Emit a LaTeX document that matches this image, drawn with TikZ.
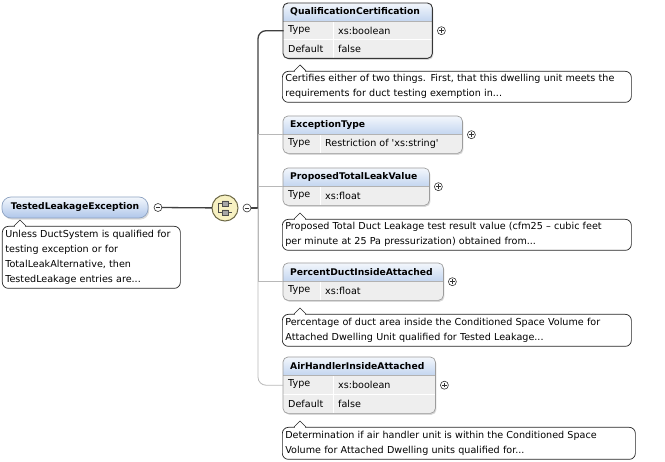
\documentclass[tikz,border=0pt]{standalone}
\usepackage{fontspec}
\setmainfont{DejaVu Sans}
\usetikzlibrary{shadows}
\definecolor{headtop}{HTML}{F3F7FC}
\definecolor{headbot}{HTML}{C4D6F0}
\definecolor{rootbot}{HTML}{AFC6EA}
\definecolor{rootline}{HTML}{8EA3C2}
\definecolor{rowfill}{HTML}{EEEEEE}
\definecolor{optgray}{HTML}{9C9C9C}
\definecolor{mandgray}{HTML}{363636}
\definecolor{seqfill}{HTML}{F7F1C2}
\definecolor{seqline}{HTML}{6E6A48}

\begin{document}
\begin{tikzpicture}[x=1pt,y=-1pt,
    every node/.style={font=\fontsize{9.6}{15}\selectfont},
    elbox/.style={anchor=north west, inner sep=0pt, fill=rowfill, rounded corners=5pt,
      drop shadow={shadow xshift=1.2pt, shadow yshift=-1.6pt, opacity=.3}},
    mandborder/.style={draw=mandgray, line width=0.9pt, rounded corners=5pt},
    optborder/.style={draw=optgray, line width=0.7pt, rounded corners=5pt},
    headfill/.style={top color=headtop, bottom color=headbot},
    headsep/.style={draw=black!30, line width=0.5pt},
    rowsep/.style={draw=white, line width=0.9pt},
    headtext/.style={anchor=west, inner sep=0pt, font=\fontsize{9.2}{15}\selectfont\bfseries},
    celltext/.style={anchor=west, inner sep=0pt},
    rootbox/.style={draw=rootline, line width=0.7pt, rounded corners=9pt, top color=headtop,
      bottom color=rootbot, minimum width=146pt, minimum height=21pt, inner sep=0pt,
      font=\fontsize{9.2}{15}\selectfont\bfseries,
      drop shadow={shadow xshift=1.2pt, shadow yshift=-1.6pt, opacity=.3}},
    docline/.style={draw=black!85, line width=0.7pt},
    docbox/.style={docline, anchor=north west, fill=white, rounded corners=6pt, inner sep=3pt, align=left},
    btn/.style={circle, draw=black!80, line width=0.6pt, fill=white, minimum size=8pt, inner sep=0pt},
    minusbtn/.style={btn, path picture={\draw[line width=0.6pt]
      ([xshift=-2.2pt]path picture bounding box.center) -- ([xshift=2.2pt]path picture bounding box.center);}},
    plusbtn/.style={btn, path picture={\draw[line width=0.6pt]
      ([xshift=-2.2pt]path picture bounding box.center) -- ([xshift=2.2pt]path picture bounding box.center)
      ([yshift=-2.2pt]path picture bounding box.center) -- ([yshift=2.2pt]path picture bounding box.center);}},
    seqnode/.style={circle, draw=seqline, line width=1pt, fill=seqfill, minimum size=26pt, inner sep=0pt},
    seqicon/.style={draw=black!70, line width=0.7pt},
    mandline/.style={draw=black!75, line width=1.3pt, line cap=rect},
    optline/.style={draw=black!28, line width=0.8pt}]
  \useasboundingbox (0,0) rectangle (665,462);

  % root element and its documentation
  \node[rootbox] (root) at (75,207.5) {TestedLeakageException};
  \node[minusbtn] (rootminus) at (158,207.5) {};
  \node[docbox, text width=172pt, minimum height=62pt] (rootdoc) at (2,226)
    {Unless DuctSystem is qualified for\\testing exception or for\\TotalLeakAlternative, then\\TestedLeakage entries are...};

  % sequence compositor
  \node[seqnode] (seq) at (225,208) {};
  \begin{scope}[shift={(seq.center)}]
    \draw[seqicon] (-7,-4.5) -- (7,-4.5) (-7,4.5) -- (7,4.5) (-7,-4.5) -- (-7,4.5);
    \filldraw[seqicon, fill=black!35] (-3,-7) rectangle (3,-2) (-3,2) rectangle (3,7);
  \end{scope}
  \node[minusbtn] (seqminus) at (247,208) {};
  \coordinate (trunk) at (258,208);

  % QualificationCertification
  \node[elbox, minimum width=149pt, minimum height=55pt] (qual) at (283,3) {};
  \begin{scope}
    \clip[rounded corners=5pt] (qual.north west) rectangle (qual.south east);
    \shade[headfill] (qual.north west) rectangle (432,21);
    \draw[rowsep] (283,39.5) -- (432,39.5) (333,21) -- (333,58);
  \end{scope}
  \draw[headsep] (283,21) -- (432,21);
  \draw[mandborder] (qual.north west) rectangle (qual.south east);
  \node[headtext] (qualname) at (290,12) {QualificationCertification};
  \node[celltext] (qualkey1) at (288,30.5) {Type};
  \node[celltext] (qualval1) at (338,30.5) {xs:boolean};
  \node[celltext] (qualkey2) at (288,49) {Default};
  \node[celltext] (qualval2) at (338,49) {false};
  \node[docbox, text width=343pt, minimum height=31pt] (qualdoc) at (282,71)
    {Certifies either of two things. First, that this dwelling unit meets the\\requirements for duct testing exemption in...};

  % ExceptionType
  \node[elbox, minimum width=179pt, minimum height=37pt] (exc) at (283,116) {};
  \begin{scope}
    \clip[rounded corners=5pt] (exc.north west) rectangle (exc.south east);
    \shade[headfill] (exc.north west) rectangle (462,134);
    \draw[rowsep] (320,134) -- (320,153);
  \end{scope}
  \draw[headsep] (283,134) -- (462,134);
  \draw[optborder] (exc.north west) rectangle (exc.south east);
  \node[headtext] (excname) at (290,125) {ExceptionType};
  \node[celltext] (exckey1) at (288,143.5) {Type};
  \node[celltext] (excval1) at (325,143.5) {Restriction of \textquotesingle xs:string\textquotesingle};

  % ProposedTotalLeakValue
  \node[elbox, minimum width=146pt, minimum height=37pt] (prop) at (283,168) {};
  \begin{scope}
    \clip[rounded corners=5pt] (prop.north west) rectangle (prop.south east);
    \shade[headfill] (prop.north west) rectangle (429,186);
    \draw[rowsep] (320,186) -- (320,205);
  \end{scope}
  \draw[headsep] (283,186) -- (429,186);
  \draw[optborder] (prop.north west) rectangle (prop.south east);
  \node[headtext] (propname) at (290,177) {ProposedTotalLeakValue};
  \node[celltext] (propkey1) at (288,195.5) {Type};
  \node[celltext] (propval1) at (325,195.5) {xs:float};
  \node[docbox, text width=343pt, minimum height=31pt] (propdoc) at (282,219)
    {Proposed Total Duct Leakage test result value (cfm25 – cubic feet\\per minute at 25 Pa pressurization) obtained from...};

  % PercentDuctInsideAttached
  \node[elbox, minimum width=160pt, minimum height=37pt] (pct) at (283,263) {};
  \begin{scope}
    \clip[rounded corners=5pt] (pct.north west) rectangle (pct.south east);
    \shade[headfill] (pct.north west) rectangle (443,281);
    \draw[rowsep] (320,281) -- (320,300);
  \end{scope}
  \draw[headsep] (283,281) -- (443,281);
  \draw[optborder] (pct.north west) rectangle (pct.south east);
  \node[headtext] (pctname) at (290,272) {PercentDuctInsideAttached};
  \node[celltext] (pctkey1) at (288,290.5) {Type};
  \node[celltext] (pctval1) at (325,290.5) {xs:float};
  \node[docbox, text width=343pt, minimum height=32pt] (pctdoc) at (282,314)
    {Percentage of duct area inside the Conditioned Space Volume for\\Attached Dwelling Unit qualified for Tested Leakage...};

  % AirHandlerInsideAttached
  \node[elbox, minimum width=152pt, minimum height=56pt] (air) at (283,357) {};
  \begin{scope}
    \clip[rounded corners=5pt] (air.north west) rectangle (air.south east);
    \shade[headfill] (air.north west) rectangle (435,375);
    \draw[rowsep] (283,394) -- (435,394) (333,375) -- (333,413);
  \end{scope}
  \draw[headsep] (283,375) -- (435,375);
  \draw[optborder] (air.north west) rectangle (air.south east);
  \node[headtext] (airname) at (290,366) {AirHandlerInsideAttached};
  \node[celltext] (airkey1) at (288,384.5) {Type};
  \node[celltext] (airval1) at (338,384.5) {xs:boolean};
  \node[celltext] (airkey2) at (288,403.5) {Default};
  \node[celltext] (airval2) at (338,403.5) {false};
  \node[docbox, text width=347pt, minimum height=32pt] (airdoc) at (282,427)
    {Determination if air handler unit is within the Conditioned Space\\Volume for Attached Dwelling units qualified for...};

  % expand buttons and doc pointers
  \foreach \e in {qual,exc,prop,pct,air}
    \node[plusbtn] (\e plus) at ([xshift=9pt]\e.east) {};
  \foreach \d in {rootdoc,qualdoc,propdoc,pctdoc,airdoc} {
    \filldraw[docline, fill=white] ([xshift=12pt]\d.north west) -- ++(6,-6) -- ++(6,6);
    \draw[white, line width=1.2pt] ([xshift=12.8pt,yshift=-0.6pt]\d.north west) -- ++(10.4,0);
  }

  % connectors
  \draw[mandline] (rootminus) -- (seq);
  \draw[mandline] (seqminus) -- (trunk);
  \draw[mandline, rounded corners=8pt] (trunk) |- (qual.west);
  \draw[optline] (trunk) |- (exc.west);
  \draw[optline] (trunk) |- (prop.west);
  \draw[optline] (trunk) |- (pct.west);
  \draw[optline, rounded corners=8pt] (trunk) |- (air.west);
\end{tikzpicture}
\end{document}
